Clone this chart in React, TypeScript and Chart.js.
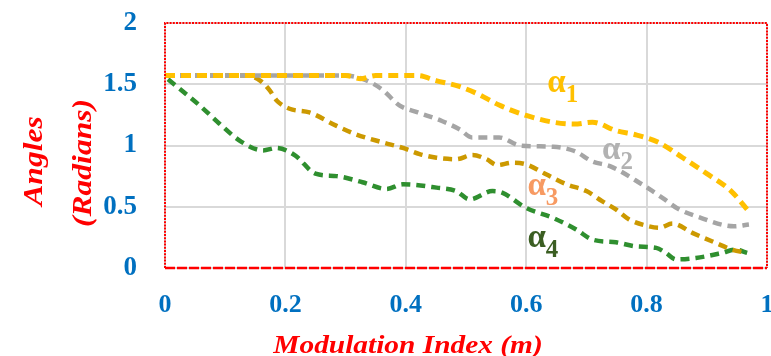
import React, { useEffect, useRef } from "react";
import { Chart, registerables } from "chart.js";

Chart.register(...registerables);

const xTicks = [0, 0.2, 0.4, 0.6, 0.8, 1];
const yTicks = [0, 0.5, 1, 1.5, 2];

const xTitle = "Modulation Index (m)";
const yTitleLines = ["Angles", "(Radians)"];

const a1X = [0, 0.1, 0.2, 0.3, 0.325, 0.35, 0.42, 0.45, 0.49, 0.52, 0.555, 0.6, 0.645, 0.68, 0.71, 0.75, 0.78, 0.82, 0.86, 0.9, 0.94, 0.97];
const a1Y = [1.571, 1.571, 1.571, 1.571, 1.545, 1.571, 1.571, 1.53, 1.48, 1.42, 1.33, 1.245, 1.19, 1.175, 1.19, 1.12, 1.09, 1.025, 0.9, 0.77, 0.63, 0.46];

const a2X = [0, 0.1, 0.2, 0.3, 0.33, 0.36, 0.39, 0.42, 0.46, 0.49, 0.51, 0.555, 0.59, 0.645, 0.68, 0.71, 0.74, 0.79, 0.83, 0.85, 0.89, 0.945, 0.97];
const a2Y = [1.571, 1.571, 1.571, 1.571, 1.54, 1.46, 1.325, 1.27, 1.2, 1.13, 1.066, 1.066, 1.0, 0.99, 0.955, 0.87, 0.83, 0.69, 0.56, 0.49, 0.41, 0.34, 0.355];

const a3X = [0, 0.1, 0.136, 0.158, 0.174, 0.185, 0.207, 0.24, 0.285, 0.318, 0.362, 0.395, 0.423, 0.451, 0.484, 0.511, 0.534, 0.552, 0.577, 0.6, 0.633, 0.667, 0.7, 0.726, 0.749, 0.771, 0.804, 0.821, 0.843, 0.876, 0.915, 0.942, 0.967];
const a3Y = [1.571, 1.571, 1.571, 1.53, 1.45, 1.37, 1.3, 1.27, 1.16, 1.09, 1.025, 0.98, 0.93, 0.9, 0.888, 0.923, 0.888, 0.84, 0.86, 0.846, 0.765, 0.683, 0.628, 0.546, 0.478, 0.396, 0.34, 0.328, 0.363, 0.287, 0.205, 0.15, 0.123];

const a4X = [0.005, 0.058, 0.09, 0.127, 0.163, 0.185, 0.216, 0.25, 0.285, 0.328, 0.368, 0.395, 0.451, 0.484, 0.506, 0.544, 0.56, 0.6, 0.644, 0.683, 0.71, 0.749, 0.782, 0.816, 0.832, 0.849, 0.882, 0.925, 0.948, 0.967];
const a4Y = [1.54, 1.325, 1.18, 1.03, 0.96, 0.98, 0.92, 0.77, 0.75, 0.7, 0.645, 0.683, 0.656, 0.628, 0.56, 0.628, 0.615, 0.49, 0.41, 0.314, 0.232, 0.21, 0.177, 0.164, 0.123, 0.07, 0.082, 0.123, 0.15, 0.123];

const seriesNames = ["α1", "α2", "α3", "α4"];
const seriesX = [a1X, a2X, a3X, a4X];
const seriesY = [a1Y, a2Y, a3Y, a4Y];
const seriesColors = ["#FFC000", "#A5A5A5", "#CC9900", "#2F8F2F"];
const seriesWidths = [5, 4.5, 4.5, 4.5];

const labelSubs = ["1", "2", "3", "4"];
const labelX = [0.635, 0.726, 0.602, 0.602];
const labelY = [1.437, 0.888, 0.6, 0.175];
const labelColors = ["#FFC000", "#B2B2B2", "#F79A62", "#3B5E22"];

const SERIF = "'Liberation Serif', 'Times New Roman', serif";

const decorPlugin = {
  id: "decor",
  afterDraw(chart: any) {
    const { ctx, chartArea } = chart;
    const { left, right, top, bottom } = chartArea;
    const xs = chart.scales.x;
    const ys = chart.scales.y;
    ctx.save();
    // plot border
    ctx.strokeStyle = "#FF0000";
    ctx.lineWidth = 2;
    ctx.setLineDash([2, 1.2]);
    ctx.beginPath();
    ctx.moveTo(left, bottom);
    ctx.lineTo(left, top);
    ctx.lineTo(right, top);
    ctx.lineTo(right, bottom);
    ctx.stroke();
    ctx.setLineDash([10, 2]);
    ctx.lineWidth = 2.5;
    ctx.beginPath();
    ctx.moveTo(left, bottom);
    ctx.lineTo(right, bottom);
    ctx.stroke();
    ctx.setLineDash([]);

    // x title
    ctx.fillStyle = "#FF0000";
    ctx.font = `bold italic 26px ${SERIF}`;
    ctx.textAlign = "center";
    ctx.textBaseline = "alphabetic";
    ctx.save();
    ctx.translate(408, 353);
    ctx.scale(1.13, 1);
    ctx.fillText(xTitle, 0, 0);
    ctx.restore();

    // y title
    const yPos = [
      [42, 161],
      [91, 163],
    ];
    ctx.font = `bold italic 27px ${SERIF}`;
    yTitleLines.forEach((t, i) => {
      ctx.save();
      ctx.translate(yPos[i][0], yPos[i][1]);
      ctx.rotate(-Math.PI / 2);
      ctx.scale(1.17, 1);
      ctx.fillText(t, 0, 0);
      ctx.restore();
    });

    // series labels
    ctx.textAlign = "left";
    seriesNames.forEach((name, i) => {
      const px = xs.getPixelForValue(labelX[i]);
      const py = ys.getPixelForValue(labelY[i]);
      ctx.fillStyle = labelColors[i];
      ctx.font = `bold 33px ${SERIF}`;
      const a = name.charAt(0);
      ctx.fillText(a, px, py);
      const w = ctx.measureText(a).width;
      ctx.font = `bold 25px ${SERIF}`;
      ctx.fillText(labelSubs[i], px + w, py + 10);
    });
    ctx.restore();
  },
};

export default function App() {
  const ref = useRef<HTMLCanvasElement | null>(null);
  useEffect(() => {
    if (!ref.current) return;
    const chart = new Chart(ref.current, {
      type: "line",
      data: {
        datasets: seriesNames.map((name, i) => ({
          label: name,
          data: seriesX[i].map((x, j) => ({ x, y: seriesY[i][j] })),
          borderColor: seriesColors[i],
          backgroundColor: seriesColors[i],
          borderWidth: seriesWidths[i],
          borderDash: i === 0 ? [10, 6] : [9, 6],
          pointRadius: 0,
          fill: false,
          cubicInterpolationMode: "monotone" as const,
        })),
      },
      options: {
        animation: false,
        responsive: false,
        devicePixelRatio: 1,
        layout: { padding: { top: 23, right: 4, left: 0, bottom: 0 } },
        plugins: {
          legend: { display: false },
          tooltip: { enabled: false },
          title: { display: false },
        },
        scales: {
          x: {
            type: "linear",
            min: 0,
            max: 1,
            afterBuildTicks: (s: any) => {
              s.ticks = xTicks.map((v) => ({ value: v }));
            },
            afterFit: (s: any) => {
              s.height = 88;
              s.paddingLeft = 0;
              s.paddingRight = 0;
            },
            grid: { color: "#D9D9D9", lineWidth: 2, drawTicks: false },
            border: { display: false },
            ticks: {
              color: "#0070C0",
              font: { family: SERIF, size: 26, weight: "bold" },
              padding: 22,
              maxRotation: 0,
              callback: (v: any) => String(v),
            },
          },
          y: {
            type: "linear",
            min: 0,
            max: 2,
            afterBuildTicks: (s: any) => {
              s.ticks = yTicks.map((v) => ({ value: v }));
            },
            afterFit: (s: any) => {
              s.width = 165;
              s.paddingTop = 0;
              s.paddingBottom = 0;
            },
            grid: { color: "#D9D9D9", lineWidth: 2, drawTicks: false },
            border: { display: false },
            ticks: {
              color: "#0070C0",
              font: { family: SERIF, size: 27, weight: "bold" },
              padding: 28,
              callback: (v: any) => String(v),
            },
          },
        },
      },
      plugins: [decorPlugin],
    });
    return () => chart.destroy();
  }, []);
  return (
    <div style={{ position: "absolute", left: 0, top: 0, width: 771, height: 356, background: "#fff" }}>
      <canvas ref={ref} width={771} height={356} />
    </div>
  );
}
